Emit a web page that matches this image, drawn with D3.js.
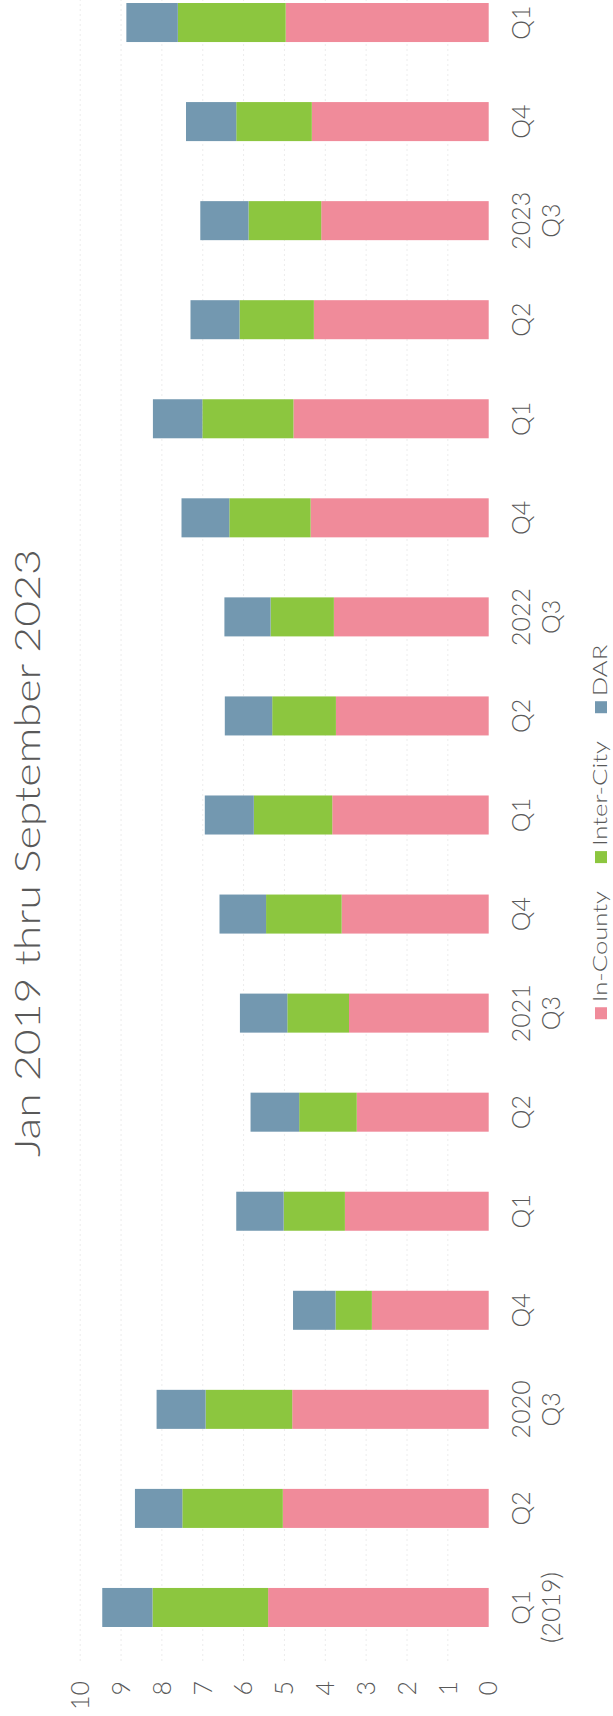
<!DOCTYPE html>
<html>
<head>
<meta charset="utf-8">
<script src="https://cdn.jsdelivr.net/npm/d3@7"></script>
<style>
  body { margin: 0; background: #fff; }
  text { font-family: Lato, "Open Sans", sans-serif; font-weight: 300; fill: #595959; }
</style>
</head>
<body>
<svg id="chart"></svg>
<script>
// quarters, oldest first; second line is the year marker
const catLabels = [
  ["Q1", "(2019)"], ["Q2"], ["2020", "Q3"], ["Q4"],
  ["Q1"], ["Q2"], ["2021", "Q3"], ["Q4"],
  ["Q1"], ["Q2"], ["2022", "Q3"], ["Q4"],
  ["Q1"], ["Q2"], ["2023", "Q3"], ["Q4"],
  ["Q1"]
];
const inCounty  = [5.40, 5.04, 4.81, 2.86, 3.52, 3.23, 3.42, 3.60, 3.83, 3.74, 3.79, 4.36, 4.78, 4.28, 4.10, 4.33, 4.97];
const interCity = [2.83, 2.46, 2.12, 0.89, 1.50, 1.41, 1.51, 1.85, 1.92, 1.56, 1.55, 1.99, 2.23, 1.82, 1.78, 1.85, 2.64];
const dar       = [1.23, 1.16, 1.20, 1.04, 1.16, 1.19, 1.16, 1.14, 1.20, 1.16, 1.13, 1.17, 1.21, 1.20, 1.18, 1.23, 1.26];
const seriesNames = ["In-County", "Inter-City", "DAR"];
const seriesColors = ["#f08b9a", "#8cc63f", "#7398b0"];
const yTicks = [0, 1, 2, 3, 4, 5, 6, 7, 8, 9, 10];
const title = "Jan 2019 thru September 2023";

// the chart is laid out as a normal column chart, then turned a quarter left
const pageW = 613, pageH = 1716;
const W = pageH, H = pageW;

const svg = d3.select("#chart").attr("width", pageW).attr("height", pageH);
const g = svg.append("g").attr("transform", `translate(0,${pageH}) rotate(-90)`);

const rows = catLabels.map((c, i) => ({
  i: i,
  "In-County": inCounty[i],
  "Inter-City": interCity[i],
  "DAR": dar[i]
}));

const x = d3.scaleBand()
  .domain(d3.range(catLabels.length))
  .range([59, 1743])
  .paddingInner(0.606)
  .paddingOuter(0.303);

const y = d3.scaleLinear().domain([0, 10]).range([488.7, 80.2]);

// faint grid
g.append("g")
  .selectAll("line")
  .data(yTicks.filter(d => d > 0))
  .enter()
  .append("line")
  .attr("x1", 55)
  .attr("x2", W)
  .attr("y1", d => y(d))
  .attr("y2", d => y(d))
  .attr("stroke", "#ececec")
  .attr("stroke-width", 1)
  .attr("stroke-dasharray", "2,3");

// value labels
g.append("g")
  .selectAll("text")
  .data(yTicks)
  .enter()
  .append("text")
  .attr("x", 35)
  .attr("y", d => y(d))
  .attr("dy", "0.35em")
  .attr("text-anchor", "end")
  .style("font-size", "25px")
  .text(d => d);

const stack = d3.stack().keys(seriesNames);
const layers = stack(rows);

g.append("g")
  .selectAll("g")
  .data(layers)
  .enter()
  .append("g")
  .attr("fill", (d, k) => seriesColors[k])
  .selectAll("rect")
  .data(d => d)
  .enter()
  .append("rect")
  .attr("x", d => x(d.data.i))
  .attr("width", x.bandwidth())
  .attr("y", d => y(d[1]))
  .attr("height", d => y(d[0]) - y(d[1]));

// category labels, one or two lines
const cat = g.append("g")
  .selectAll("text")
  .data(catLabels)
  .enter()
  .append("text")
  .attr("text-anchor", "middle")
  .style("font-size", "25px");

cat.selectAll("tspan")
  .data((d, i) => d.map(t => ({ t: t, i: i })))
  .enter()
  .append("tspan")
  .attr("x", d => x(d.i) + x.bandwidth() / 2)
  .attr("y", (d, j) => 530 + j * 30)
  .text(d => d.t);

// title
g.append("text")
  .attr("transform", `translate(863,40) scale(1.24,1)`)
  .attr("text-anchor", "middle")
  .style("font-size", "36px")
  .text(title);

// legend
const legend = g.append("g");
const stretch = 1.35;
let cursor = 0;
seriesNames.forEach((name, k) => {
  legend.append("rect")
    .attr("x", cursor)
    .attr("y", 595)
    .attr("width", 12)
    .attr("height", 12)
    .attr("fill", seriesColors[k]);
  const t = legend.append("text")
    .attr("transform", `translate(${cursor + 17},607) scale(${stretch},1)`)
    .style("font-size", "19px")
    .text(name);
  cursor += 17 + t.node().getComputedTextLength() * stretch + 28;
});
const legendW = cursor - 28;
legend.attr("transform", `translate(${884 - legendW / 2},0)`);
</script>
</body>
</html>
